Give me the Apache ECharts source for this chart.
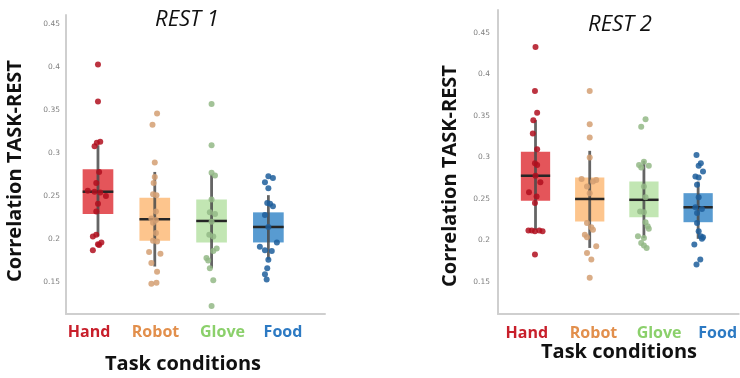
<!DOCTYPE html>
<html>
<head>
<meta charset="utf-8">
<script src="https://cdn.jsdelivr.net/npm/echarts@6/dist/echarts.min.js"></script>
<style>
  html, body { margin: 0; padding: 0; background: #fff; }
  #chart { width: 740px; height: 378px; }
</style>
</head>
<body>
<div id="chart"></div>
<script>
// categories and tick labels
const categories = ['Hand', 'Robot', 'Glove', 'Food']
const panelTitles = ['REST 1', 'REST 2']
const yTickValues = [0.15, 0.2, 0.25, 0.3, 0.35, 0.4, 0.45]
const yTickLabels = ['0.15', '0.2', '0.25', '0.3', '0.35', '0.4', '0.45']

// box stats per category: [whisker low, Q1, median, Q3, whisker high]
const boxR1 = [
  [0.203, 0.229, 0.255, 0.281, 0.309],
  [0.168, 0.198, 0.223, 0.248, 0.278],
  [0.166, 0.196, 0.221, 0.246, 0.275],
  [0.176, 0.196, 0.214, 0.231, 0.251]
]
const boxR2 = [
  [0.213, 0.248, 0.278, 0.307, 0.345],
  [0.191, 0.223, 0.250, 0.276, 0.308],
  [0.203, 0.228, 0.249, 0.271, 0.296],
  [0.202, 0.222, 0.240, 0.257, 0.271]
]

// individual subjects, REST 1
const handR1 = [0.403, 0.360, 0.313, 0.312, 0.308, 0.278, 0.265, 0.256, 0.255, 0.254, 0.250, 0.241, 0.232, 0.205, 0.203, 0.196, 0.194, 0.193, 0.187]
const robotR1 = [0.346, 0.333, 0.289, 0.272, 0.265, 0.252, 0.251, 0.232, 0.224, 0.222, 0.219, 0.207, 0.198, 0.197, 0.185, 0.183, 0.172, 0.162, 0.149, 0.148]
const gloveR1 = [0.357, 0.309, 0.277, 0.274, 0.246, 0.231, 0.229, 0.220, 0.205, 0.203, 0.189, 0.186, 0.178, 0.175, 0.166, 0.152, 0.122]
const foodR1 = [0.273, 0.271, 0.266, 0.259, 0.242, 0.241, 0.238, 0.228, 0.214, 0.196, 0.191, 0.187, 0.186, 0.176, 0.166, 0.159, 0.153]

// individual subjects, REST 2
const handR2 = [0.433, 0.380, 0.354, 0.345, 0.329, 0.310, 0.293, 0.291, 0.278, 0.270, 0.258, 0.253, 0.245, 0.212, 0.212, 0.211, 0.212, 0.211, 0.183]
const robotR2 = [0.380, 0.340, 0.324, 0.300, 0.274, 0.273, 0.271, 0.265, 0.257, 0.221, 0.216, 0.213, 0.207, 0.204, 0.193, 0.185, 0.177, 0.155]
const gloveR2 = [0.346, 0.337, 0.295, 0.291, 0.290, 0.288, 0.265, 0.252, 0.235, 0.234, 0.222, 0.217, 0.214, 0.205, 0.203, 0.197, 0.194, 0.191]
const foodR2 = [0.303, 0.293, 0.290, 0.283, 0.277, 0.276, 0.267, 0.252, 0.240, 0.238, 0.233, 0.221, 0.211, 0.205, 0.204, 0.202, 0.195, 0.177, 0.171]

// horizontal jitter of the dots (in category units), as seen in the picture
const jitHandR1 = [0, 0, .04, -.02, -.06, .02, -.03, -.18, -.06, .04, .14, 0, -.03, -.03, -.09, .06, 0, .02, -.09]
const jitRobotR1 = [.04, -.04, 0, 0, -.02, -.03, .03, .02, -.06, .02, -.03, .02, -.03, .04, -.1, .1, -.06, .04, .03, -.06]
const jitGloveR1 = [0, 0, 0, .06, 0, -.03, .06, 0, -.04, .03, .09, .03, -.09, -.06, -.03, .03, 0]
const jitFoodR1 = [0, .08, -.06, 0, -.02, .03, .08, -.06, 0, .15, -.15, -.06, .06, 0, -.02, -.06, -.03]
const jitHandR2 = [0, -.01, .03, -.04, -.05, .03, -.01, .03, 0, .09, -.12, .02, -.01, -.13, -.07, -.01, .07, .13, -.01]
const jitRobotR2 = [0, 0, 0, 0, -.15, .12, .06, -.05, 0, -.05, .03, .06, -.09, -.05, .12, -.05, .03, 0]
const jitGloveR2 = [.03, -.05, 0, -.09, .09, -.05, 0, .03, -.07, 0, .03, .07, .09, -.11, 0, -.05, 0, .05]
const jitFoodR2 = [-.03, .05, .01, .09, -.05, .01, -.02, .01, -.05, .07, -.02, -.02, .01, .05, .09, .07, -.07, .04, -.03]

// colours
const boxColors = ['#e2464c', '#fdc083', '#bde4ad', '#4a93cd']
const dotColors = ['#b00f1e', '#d39f72', '#93b986', '#1d5e9b']
const labelColors = ['#c81f2b', '#e28f4c', '#8bd06b', '#2d7ac3']

// layout
const panels = [
  { left: 66, top: 15, width: 259, height: 299, xMin: 0.437, xMax: 4.997, yMin: 0.1128, yMax: 0.4605,
    labelPos: [0.842, 2.013, 3.192, 4.257], labelMargin: 10 },
  { left: 498, top: 10, width: 242, height: 304, xMin: 0.308, xMax: 4.748, yMin: 0.1114, yMax: 0.4777,
    labelPos: [0.84, 2.07, 3.28, 4.36], labelMargin: 11 }
]
const BOX_W = 0.54

const chart = echarts.init(document.getElementById('chart'))

// index of the closest entry (custom tick values come back without an index)
function nearest(arr, v) {
  let best = 0
  arr.forEach((a, i) => { if (Math.abs(a - v) < Math.abs(arr[best] - v)) best = i })
  return best
}

function renderBox(params, api) {
  const x = api.value(0)
  const lo = api.coord([x, api.value(1)])
  const q1 = api.coord([x, api.value(2)])
  const md = api.coord([x, api.value(3)])
  const q3 = api.coord([x, api.value(4)])
  const hi = api.coord([x, api.value(5)])
  const half = api.size([BOX_W, 0])[0] / 2
  return {
    type: 'group',
    children: [
      { type: 'rect', shape: { x: q3[0] - half, y: q3[1], width: half * 2, height: q1[1] - q3[1] },
        style: { fill: boxColors[params.dataIndex], opacity: 0.92 } },
      { type: 'line', shape: { x1: lo[0], y1: lo[1], x2: hi[0], y2: hi[1] },
        style: { stroke: '#4a4a4a', lineWidth: 2.8, opacity: 0.85 } },
      { type: 'line', shape: { x1: md[0] - half, y1: md[1], x2: md[0] + half, y2: md[1] },
        style: { stroke: '#262626', lineWidth: 2.5 } }
    ]
  }
}

const boxSets = [boxR1, boxR2]
const dotSets = [[handR1, robotR1, gloveR1, foodR1], [handR2, robotR2, gloveR2, foodR2]]
const jitSets = [[jitHandR1, jitRobotR1, jitGloveR1, jitFoodR1], [jitHandR2, jitRobotR2, jitGloveR2, jitFoodR2]]

const grid = [], xAxis = [], yAxis = [], series = []

panels.forEach((p, k) => {
  grid.push({ left: p.left, top: p.top, width: p.width, height: p.height })
  xAxis.push({
    type: 'value', gridIndex: k, min: p.xMin, max: p.xMax,
    axisLine: { show: true, lineStyle: { color: '#cfcfcf', width: 2 } },
    axisTick: { show: false },
    splitLine: { show: false },
    axisLabel: {
      customValues: p.labelPos,
      margin: p.labelMargin,
      formatter: v => {
        const i = nearest(p.labelPos, v)
        return `{c${i}|${categories[i]}}`
      },
      rich: Object.fromEntries(categories.map((c, i) => ['c' + i, {
        color: labelColors[i], fontFamily: 'Open Sans', fontWeight: 'bold', fontSize: 16
      }]))
    }
  })
  yAxis.push({
    type: 'value', gridIndex: k, min: p.yMin, max: p.yMax,
    axisLine: { show: true, lineStyle: { color: '#cfcfcf', width: 2 } },
    axisTick: { show: false },
    splitLine: { show: false },
    axisLabel: {
      customValues: yTickValues,
      formatter: v => yTickLabels[nearest(yTickValues, v)],
      fontSize: 7.5, color: '#808080', margin: 6 + k * 2, fontFamily: 'DejaVu Sans'
    }
  })
  series.push({
    type: 'custom', xAxisIndex: k, yAxisIndex: k,
    renderItem: renderBox,
    encode: { x: 0, y: [1, 2, 3, 4, 5] },
    data: boxSets[k].map((b, i) => [i + 1, ...b]),
    z: 2
  })
  dotSets[k].forEach((vals, c) => {
    series.push({
      type: 'scatter', xAxisIndex: k, yAxisIndex: k,
      symbolSize: 6,
      itemStyle: { color: dotColors[c], opacity: 0.85 },
      data: vals.map((v, i) => [c + 1 + jitSets[k][c][i], v]),
      z: 3
    })
  })
})

const boldFont = 'bold 20px "Open Sans"'
const graphic = [
  { type: 'text', x: 187, y: 20, style: { text: panelTitles[0], font: 'italic 22px "Open Sans"', fill: '#111', textAlign: 'center', textVerticalAlign: 'middle' } },
  { type: 'text', x: 620, y: 25, style: { text: panelTitles[1], font: 'italic 22px "Open Sans"', fill: '#111', textAlign: 'center', textVerticalAlign: 'middle' } },
  { type: 'text', x: 15, y: 171, rotation: Math.PI / 2, style: { text: 'Correlation TASK-REST', font: boldFont, fill: '#111', textAlign: 'center', textVerticalAlign: 'middle' } },
  { type: 'text', x: 450, y: 176, rotation: Math.PI / 2, style: { text: 'Correlation TASK-REST', font: boldFont, fill: '#111', textAlign: 'center', textVerticalAlign: 'middle' } },
  { type: 'text', x: 183, y: 364, style: { text: 'Task conditions', font: boldFont, fill: '#111', textAlign: 'center', textVerticalAlign: 'middle' } },
  { type: 'text', x: 619, y: 352, style: { text: 'Task conditions', font: boldFont, fill: '#111', textAlign: 'center', textVerticalAlign: 'middle' } }
]

chart.setOption({
  animation: false,
  backgroundColor: '#fff',
  grid, xAxis, yAxis, series, graphic
})
</script>
</body>
</html>
